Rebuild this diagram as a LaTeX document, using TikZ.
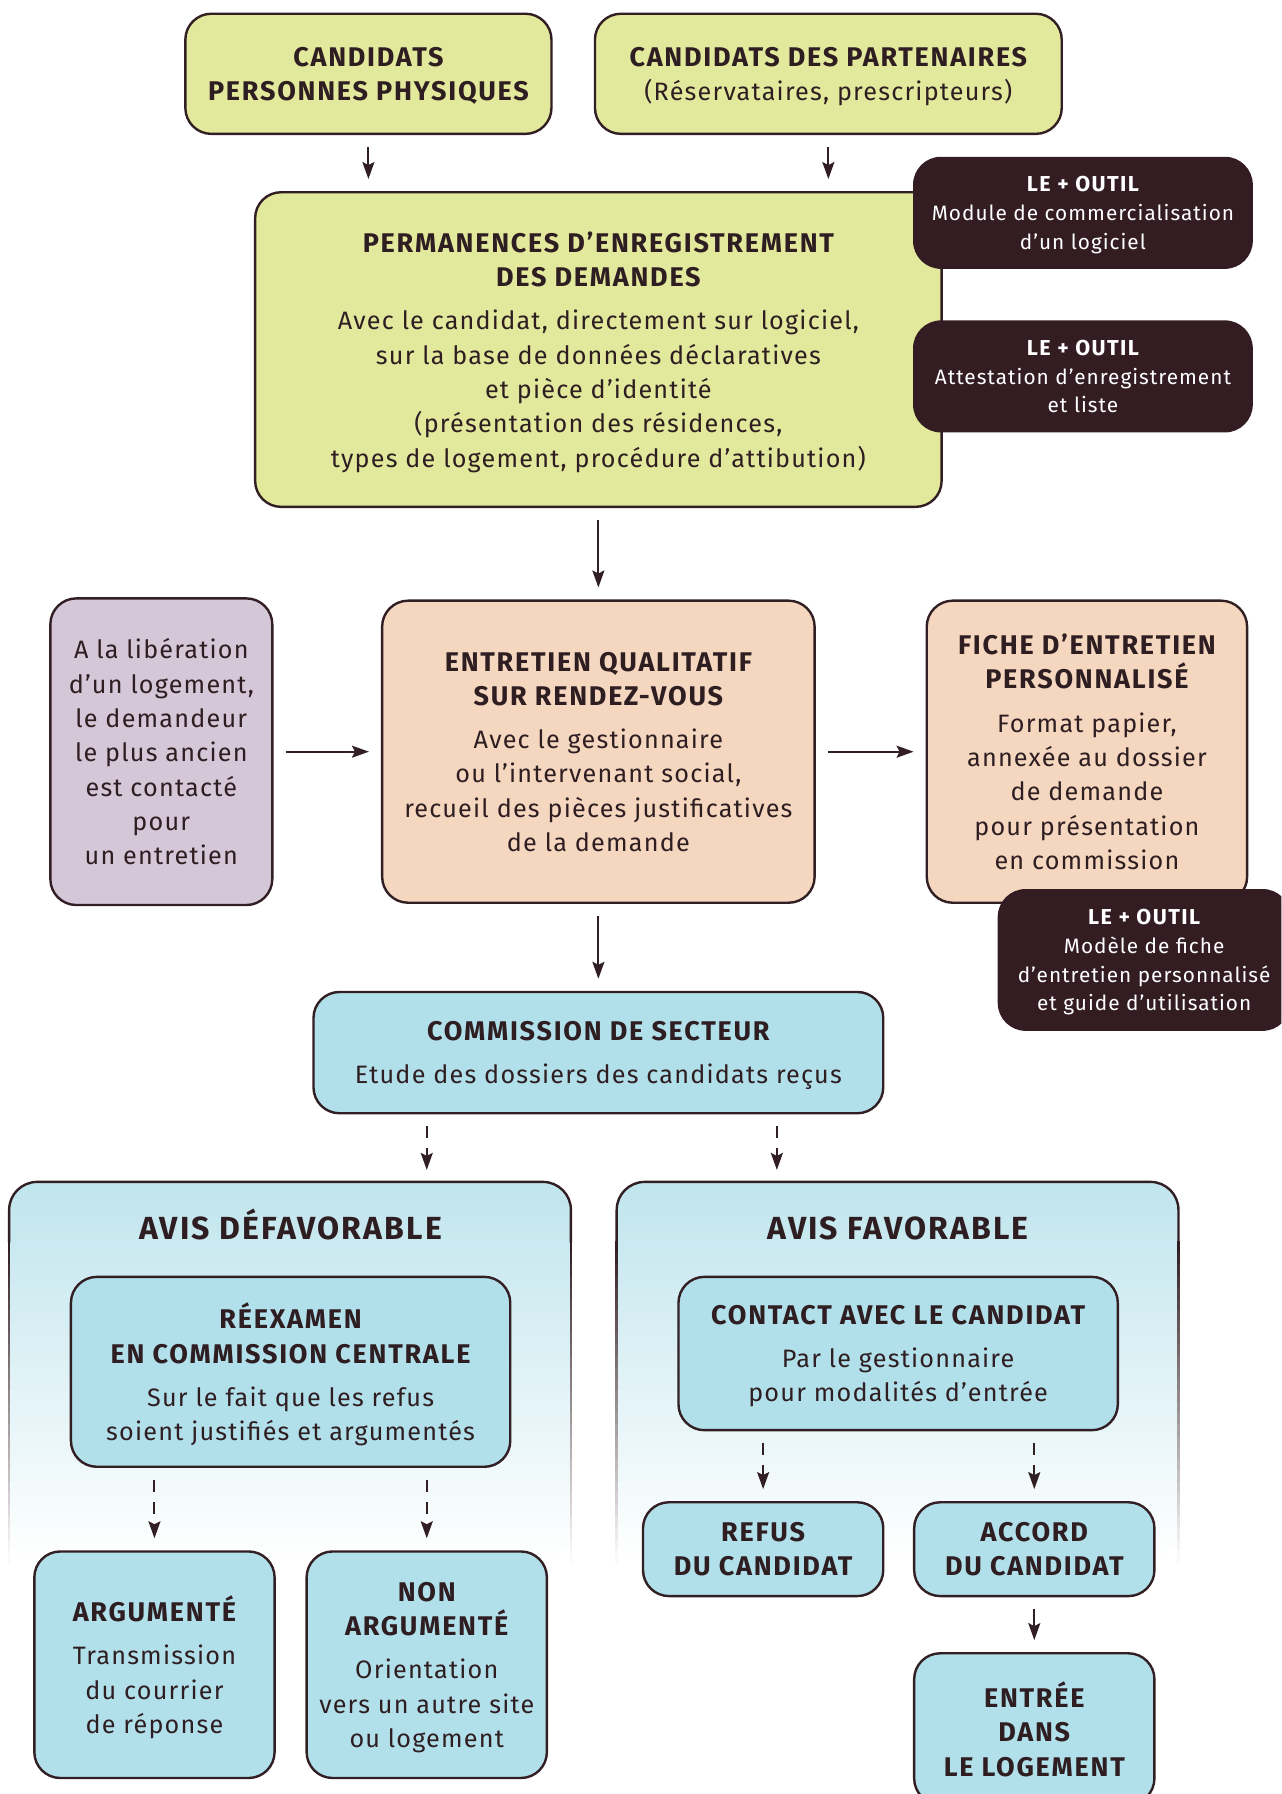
\documentclass[tikz,border=0pt]{standalone}
\usepackage{fontspec}
\setmainfont{Fira Sans}[LetterSpace=4.8, BoldFeatures={LetterSpace=6.5}]
\usetikzlibrary{
  arrows.meta,
  positioning,
  calc
}
\definecolor{limeC}{RGB}{226,233,156}
\definecolor{peachC}{RGB}{245,215,192}
\definecolor{lilacC}{RGB}{212,199,216}
\definecolor{blueC}{RGB}{178,224,234}
\definecolor{panelC}{RGB}{192,229,237}
\definecolor{toolC}{RGB}{51,29,35}
\definecolor{lineC}{RGB}{50,31,35}
\definecolor{inkC}{RGB}{46,30,34}
\newcommand\hd[1]{{\fontsize{13.5}{17.17}\selectfont\bfseries #1}}
\newcommand\tl[1]{{\fontsize{10.8}{14.4}\selectfont\bfseries #1}}
\tikzset{
  card/.style={
    draw=lineC,
    line width=1.2pt,
    rounded corners=13pt,
    align=center,
    text=inkC,
    inner sep=0pt,
    text depth=0pt,
    font=\fontsize{12.6}{17.17}\selectfont
  },
  limecard/.style={card, fill=limeC},
  peachcard/.style={card, fill=peachC},
  lilaccard/.style={card, fill=lilacC},
  bluecard/.style={card, fill=blueC},
  toolcard/.style={
    fill=toolC,
    rounded corners=14pt,
    align=center,
    text=white,
    inner sep=0pt,
    text depth=0pt,
    font=\fontsize{10.4}{14.4}\selectfont
  },
  dims/.style 2 args={minimum width=#1*0.5723pt, minimum height=#2*0.5723pt},
  flow/.style={->, draw=lineC, line width=1pt, shorten <=6pt, shorten >=6pt},
  dflow/.style={flow, dash pattern=on 6pt off 5pt},
  paneltitle/.style={
    text=inkC,
    text height=11pt,
    text depth=0pt,
    font=\fontsize{16}{19}\selectfont\bfseries
  }
}

\begin{document}
\begin{tikzpicture}[
    x=0.5723pt,
    y=-0.5723pt,
    >={Stealth[length=8.5pt,width=6pt,inset=1.5pt]}
  ]
  \useasboundingbox (0,0) rectangle (1120,1568);
  \clip (0,0) rectangle (1120,1568);

  % avis panels, fading out downwards
  \foreach \xl/\xr in {8/499, 539/1030}{
    \shade[top color=panelC, bottom color=white, rounded corners=14pt]
      (\xl,1365) -- (\xl,1033) -- (\xr,1033) -- (\xr,1365) -- cycle;
    \draw[lineC, line width=1.2pt, rounded corners=14pt]
      (\xl,1086) -- (\xl,1033) -- (\xr,1033) -- (\xr,1086);
    \foreach \k in {0,...,27}{
      \pgfmathsetmacro\fade{100-\k*3.6}
      \draw[lineC!\fade!white, line width=1.2pt]
        (\xl,1085+\k*10) -- (\xl,1096+\k*10)
        (\xr,1085+\k*10) -- (\xr,1096+\k*10);
    }
  }
  \coordinate (defav) at (254,1033);
  \coordinate (fav) at (785,1033);

  \node[limecard, dims={320}{105}] (cpp) at (322,64.5)
    {\hd{CANDIDATS}\\\hd{PERSONNES PHYSIQUES}};
  \node[limecard, dims={408}{105}] (cdp) at (724,64.5)
    {\hd{CANDIDATS DES PARTENAIRES}\\(Réservataires, prescripteurs)};
  \node[limecard, dims={600}{275}] (perm) at (523,305.5)
    {\hd{PERMANENCES D’ENREGISTREMENT}\\\hd{DES DEMANDES}\\[4.4pt]
     Avec le candidat, directement sur logiciel,\\
     sur la base de données déclaratives\\
     et pièce d’identité\\
     (présentation des résidences,\\
     types de logement, procédure d’attibution)};
  \node[toolcard, dims={297}{98}] (outil1) at (946.5,186)
    {\tl{LE + OUTIL}\\Module de commercialisation\\d’un logiciel};
  \node[toolcard, dims={297}{98}] (outil2) at (946.5,329)
    {\tl{LE + OUTIL}\\Attestation d’enregistrement\\et liste};

  \node[lilaccard, dims={194}{268}] (lib) at (141,657)
    {A la libération\\d’un logement,\\le demandeur\\le plus ancien\\est contacté\\pour\\un entretien};
  \node[peachcard, dims={378}{264}] (entr) at (523,657)
    {\hd{ENTRETIEN QUALITATIF}\\\hd{SUR RENDEZ-VOUS}\\[4.4pt]
     Avec le gestionnaire\\
     ou l’intervenant social,\\
     recueil des pièces justificatives\\
     de la demande};
  \node[peachcard, dims={280}{264}] (fiche) at (950,657)
    {\hd{FICHE D’ENTRETIEN}\\\hd{PERSONNALISÉ}\\[4.4pt]
     Format papier,\\annexée au dossier\\de demande\\pour présentation\\en commission};
  \node[toolcard, dims={256}{124}] (outil3) at (1000,839)
    {\tl{LE + OUTIL}\\Modèle de fiche\\d’entretien personnalisé\\et guide d’utilisation};

  \node[bluecard, dims={498}{106}] (comm) at (523,920)
    {\hd{COMMISSION DE SECTEUR}\\[4.4pt]Etude des dossiers des candidats reçus};

  \node[paneltitle] (defavt) at (254,1074) {AVIS DÉFAVORABLE};
  \node[paneltitle] (favt) at (785,1074) {AVIS FAVORABLE};

  \node[bluecard, dims={384}{166}] (reex) at (254,1199)
    {\hd{RÉEXAMEN}\\\hd{EN COMMISSION CENTRALE}\\[4.4pt]
     Sur le fait que les refus\\soient justifiés et argumentés};
  \node[bluecard, dims={210}{198}] (arg) at (135,1455)
    {\hd{ARGUMENTÉ}\\[4.4pt]Transmission\\du courrier\\de réponse};
  \node[bluecard, dims={210}{198}] (narg) at (373,1455)
    {\hd{NON}\\\hd{ARGUMENTÉ}\\[4.4pt]Orientation\\vers un autre site\\ou logement};

  \node[bluecard, dims={384}{134}] (cont) at (785,1183)
    {\hd{CONTACT AVEC LE CANDIDAT}\\[4.4pt]
     Par le gestionnaire\\pour modalités d’entrée};
  \node[bluecard, dims={210}{82}] (refus) at (667,1354)
    {\hd{REFUS}\\\hd{DU CANDIDAT}};
  \node[bluecard, dims={210}{82}] (acc) at (904,1354)
    {\hd{ACCORD}\\\hd{DU CANDIDAT}};
  \node[bluecard, dims={210}{132}] (entree) at (904,1511)
    {\hd{ENTRÉE}\\\hd{DANS}\\\hd{LE LOGEMENT}};

  % connectors
  \draw[flow] (cpp.south) -- (cpp.south |- perm.north);
  \draw[flow] (cdp.south) -- (cdp.south |- perm.north);
  \draw[flow] (perm) -- (entr);
  \draw[flow] (lib) -- (entr);
  \draw[flow] (entr) -- (fiche);
  \draw[flow] (entr) -- (comm);
  \coordinate (cl) at ($(comm.south)+(-150,0)$);
  \coordinate (cr) at ($(comm.south)+(156,0)$);
  \draw[dflow] (cl) -- (cl |- defav);
  \draw[dflow] (cr) -- (cr |- fav);
  \draw[dflow] (arg.north |- reex.south) -- (arg.north);
  \draw[dflow] (narg.north |- reex.south) -- (narg.north);
  \draw[dflow] (refus.north |- cont.south) -- (refus.north);
  \draw[dflow] (acc.north |- cont.south) -- (acc.north);
  \draw[flow] (acc) -- (entree);
\end{tikzpicture}
\end{document}
